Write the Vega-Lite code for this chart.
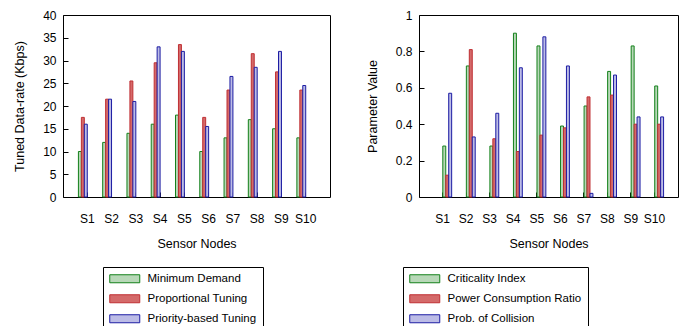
{
  "$schema": "https://vega.github.io/schema/vega-lite/v6.json",
  "padding": {"left": 13, "top": 8, "right": 2, "bottom": 2},
  "background": "white",
  "config": {
    "font": "Liberation Sans Narrow, Liberation Sans, sans-serif",
    "view": {"stroke": "black", "strokeWidth": 1},
    "axis": {
      "labelFontSize": 12, "titleFontSize": 12.5, "labelColor": "black", "titleColor": "black",
      "titleFontWeight": "normal", "domain": false, "grid": false, "tickColor": "black",
      "tickSize": -5, "labelFont": "Liberation Sans Narrow, Liberation Sans, sans-serif",
      "titleFont": "Liberation Sans Narrow, Liberation Sans, sans-serif"
    },
    "legend": {
      "labelFontSize": 11.5, "labelColor": "black",
      "labelFont": "Liberation Sans Narrow, Liberation Sans, sans-serif",
      "strokeColor": "black", "padding": 6, "rowPadding": 7,
      "symbolType": "M-1,-0.8H5V0.8H-1Z", "symbolSize": 100, "symbolStrokeWidth": 1,
      "labelOffset": 27, "labelLimit": 300
    }
  },
  "datasets": {
    "rate": [
      {"node": "S1", "series": "Minimum Demand", "value": 10},
      {"node": "S1", "series": "Proportional Tuning", "value": 17.5},
      {"node": "S1", "series": "Priority-based Tuning", "value": 16},
      {"node": "S2", "series": "Minimum Demand", "value": 12},
      {"node": "S2", "series": "Proportional Tuning", "value": 21.5},
      {"node": "S2", "series": "Priority-based Tuning", "value": 21.5},
      {"node": "S3", "series": "Minimum Demand", "value": 14},
      {"node": "S3", "series": "Proportional Tuning", "value": 25.5},
      {"node": "S3", "series": "Priority-based Tuning", "value": 21},
      {"node": "S4", "series": "Minimum Demand", "value": 16},
      {"node": "S4", "series": "Proportional Tuning", "value": 29.5},
      {"node": "S4", "series": "Priority-based Tuning", "value": 33},
      {"node": "S5", "series": "Minimum Demand", "value": 18},
      {"node": "S5", "series": "Proportional Tuning", "value": 33.5},
      {"node": "S5", "series": "Priority-based Tuning", "value": 32},
      {"node": "S6", "series": "Minimum Demand", "value": 10},
      {"node": "S6", "series": "Proportional Tuning", "value": 17.5},
      {"node": "S6", "series": "Priority-based Tuning", "value": 15.5},
      {"node": "S7", "series": "Minimum Demand", "value": 13},
      {"node": "S7", "series": "Proportional Tuning", "value": 23.5},
      {"node": "S7", "series": "Priority-based Tuning", "value": 26.5},
      {"node": "S8", "series": "Minimum Demand", "value": 17},
      {"node": "S8", "series": "Proportional Tuning", "value": 31.5},
      {"node": "S8", "series": "Priority-based Tuning", "value": 28.5},
      {"node": "S9", "series": "Minimum Demand", "value": 15},
      {"node": "S9", "series": "Proportional Tuning", "value": 27.5},
      {"node": "S9", "series": "Priority-based Tuning", "value": 32},
      {"node": "S10", "series": "Minimum Demand", "value": 13},
      {"node": "S10", "series": "Proportional Tuning", "value": 23.5},
      {"node": "S10", "series": "Priority-based Tuning", "value": 24.5}
    ],
    "param": [
      {"node": "S1", "param": "Criticality Index", "value": 0.28},
      {"node": "S1", "param": "Power Consumption Ratio", "value": 0.12},
      {"node": "S1", "param": "Prob. of Collision", "value": 0.57},
      {"node": "S2", "param": "Criticality Index", "value": 0.72},
      {"node": "S2", "param": "Power Consumption Ratio", "value": 0.81},
      {"node": "S2", "param": "Prob. of Collision", "value": 0.33},
      {"node": "S3", "param": "Criticality Index", "value": 0.28},
      {"node": "S3", "param": "Power Consumption Ratio", "value": 0.32},
      {"node": "S3", "param": "Prob. of Collision", "value": 0.46},
      {"node": "S4", "param": "Criticality Index", "value": 0.90},
      {"node": "S4", "param": "Power Consumption Ratio", "value": 0.25},
      {"node": "S4", "param": "Prob. of Collision", "value": 0.71},
      {"node": "S5", "param": "Criticality Index", "value": 0.83},
      {"node": "S5", "param": "Power Consumption Ratio", "value": 0.34},
      {"node": "S5", "param": "Prob. of Collision", "value": 0.88},
      {"node": "S6", "param": "Criticality Index", "value": 0.39},
      {"node": "S6", "param": "Power Consumption Ratio", "value": 0.38},
      {"node": "S6", "param": "Prob. of Collision", "value": 0.72},
      {"node": "S7", "param": "Criticality Index", "value": 0.50},
      {"node": "S7", "param": "Power Consumption Ratio", "value": 0.55},
      {"node": "S7", "param": "Prob. of Collision", "value": 0.02},
      {"node": "S8", "param": "Criticality Index", "value": 0.69},
      {"node": "S8", "param": "Power Consumption Ratio", "value": 0.56},
      {"node": "S8", "param": "Prob. of Collision", "value": 0.67},
      {"node": "S9", "param": "Criticality Index", "value": 0.83},
      {"node": "S9", "param": "Power Consumption Ratio", "value": 0.40},
      {"node": "S9", "param": "Prob. of Collision", "value": 0.44},
      {"node": "S10", "param": "Criticality Index", "value": 0.61},
      {"node": "S10", "param": "Power Consumption Ratio", "value": 0.40},
      {"node": "S10", "param": "Prob. of Collision", "value": 0.44}
    ]
  },
  "hconcat": [
    {
      "data": {"name": "rate"},
      "width": 267,
      "height": 182,
      "mark": {"type": "bar", "strokeWidth": 1},
      "encoding": {
        "x": {"field": "node", "type": "nominal", "sort": ["S1","S2","S3","S4","S5","S6","S7","S8","S9","S10"],
              "scale": {"paddingInner": 0.27, "paddingOuter": 0.635},
              "axis": {"title": "Sensor Nodes", "labelAngle": 0, "labelPadding": 21, "titlePadding": 13}},
        "xOffset": {"field": "series", "type": "nominal", "scale": {"domain": ["Minimum Demand","Proportional Tuning","Priority-based Tuning"], "paddingInner": 0, "paddingOuter": 0}},
        "y": {"field": "value", "type": "quantitative", "scale": {"domain": [0, 40]},
              "axis": {"title": "Tuned Data-rate (Kbps)", "values": [0,5,10,15,20,25,30,35,40], "labelPadding": 12, "titlePadding": 16}},
        "stroke": {"field": "series", "type": "nominal",
              "scale": {"domain": ["Minimum Demand","Proportional Tuning","Priority-based Tuning"], "range": ["#13801a","#bf2f33","#1c1ca3"]},
              "legend": {"title": null, "orient": "none", "legendX": 40, "legendY": 252}},
        "fill": {"field": "series", "type": "nominal",
              "scale": {"domain": ["Minimum Demand","Proportional Tuning","Priority-based Tuning"], "range": ["#b8d8b8","#d46a6a","#bcbce6"]},
              "legend": {"title": null, "orient": "none", "legendX": 40, "legendY": 252}}
      }
    },
    {
      "data": {"name": "param"},
      "width": 259,
      "height": 182,
      "mark": {"type": "bar", "strokeWidth": 1},
      "encoding": {
        "x": {"field": "node", "type": "nominal", "sort": ["S1","S2","S3","S4","S5","S6","S7","S8","S9","S10"],
              "scale": {"paddingInner": 0.27, "paddingOuter": 0.635},
              "axis": {"title": "Sensor Nodes", "labelAngle": 0, "labelPadding": 21, "titlePadding": 13}},
        "xOffset": {"field": "param", "type": "nominal", "scale": {"domain": ["Criticality Index","Power Consumption Ratio","Prob. of Collision"], "paddingInner": 0, "paddingOuter": 0}},
        "y": {"field": "value", "type": "quantitative", "scale": {"domain": [0, 1]},
              "axis": {"title": "Parameter Value", "values": [0,0.2,0.4,0.6,0.8,1], "format": "~g", "labelPadding": 12, "titlePadding": 16}},
        "stroke": {"field": "param", "type": "nominal",
              "scale": {"domain": ["Criticality Index","Power Consumption Ratio","Prob. of Collision"], "range": ["#13801a","#bf2f33","#1c1ca3"]},
              "legend": {"title": null, "orient": "none", "legendX": -16, "legendY": 252}},
        "fill": {"field": "param", "type": "nominal",
              "scale": {"domain": ["Criticality Index","Power Consumption Ratio","Prob. of Collision"], "range": ["#b8d8b8","#d46a6a","#bcbce6"]},
              "legend": {"title": null, "orient": "none", "legendX": -16, "legendY": 252}}
      }
    }
  ],
  "spacing": 34,
  "resolve": {"scale": {"fill": "independent", "stroke": "independent"}, "legend": {"fill": "independent", "stroke": "independent"}}
}
